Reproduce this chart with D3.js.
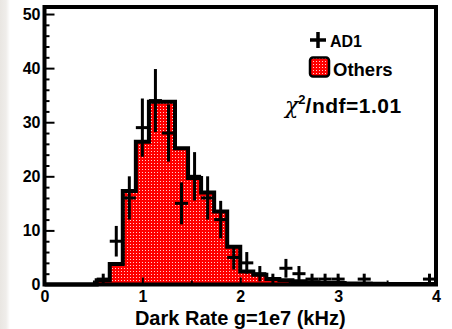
<!DOCTYPE html>
<html>
<head>
<meta charset="utf-8">
<script src="https://cdn.jsdelivr.net/npm/d3@7"></script>
<style>
  body { margin: 0; background: #fff; }
  svg { display: block; }
</style>
</head>
<body>
<div id="chart"></div>
<script>
// 30 bins between 0 and 4 kHz
const xLimits = [0, 4];
const nBins = 30;
const othersCounts = [0, 0, 0, 0, 0.8, 3.8, 17.3, 26.4, 33.8, 33.8,
                      25.2, 19.7, 17.0, 13.5, 7.0, 2.4, 1.8, 1.0, 0.8, 0.6,
                      0.4, 0.3, 0.3, 0.2, 0.2, 0.15, 0.1, 0.1, 0.1, 0.1];
const ad1Counts = [0, 0, 0, 0, 1, 8, 16, 29, 34, 28,
                   15, 20, 16, 12, 5, 4, 2, 1, 3, 2,
                   1, 1, 1, 0, 1, 0, 0, 0, 0, 1];
const yMajorTicks = [0, 10, 20, 30, 40, 50];
const xMajorTicks = [0, 1, 2, 3, 4];
const xMinorTicks = [0.5, 1.5, 2.5, 3.5];
const xTitle = "Dark Rate g=1e7 (kHz)";
const legendLabels = ["AD1", "Others"];
const chi2Value = "1.01";

const W = 452, H = 329;
const frame = { left: 44.5, right: 436, top: 7, bottom: 284.5 };
const font = "'Liberation Sans', Arial, Helvetica, sans-serif";

const svg = d3.select("#chart")
    .append("svg")
    .attr("width", W)
    .attr("height", H);

// slide-like shadow on the left edge
const defs = svg.append("defs");
const grad = defs.append("linearGradient").attr("id", "edge");
grad.append("stop").attr("offset", "0%").attr("stop-color", "#e9e6e2");
grad.append("stop").attr("offset", "60%").attr("stop-color", "#efedea");
grad.append("stop").attr("offset", "100%").attr("stop-color", "#ffffff");
svg.append("rect").attr("width", 10).attr("height", H).style("fill", "url(#edge)");

// ROOT-ish dotted red fill
const pat = defs.append("pattern")
    .attr("id", "dots")
    .attr("x", 0).attr("y", 0)
    .attr("width", 3).attr("height", 3)
    .attr("patternUnits", "userSpaceOnUse");
pat.append("rect").attr("width", 3).attr("height", 3).style("fill", "#ff0000")
    .attr("shape-rendering", "crispEdges");
pat.append("rect").attr("x", 1).attr("y", 1).attr("width", 1).attr("height", 1)
    .attr("shape-rendering", "crispEdges")
    .style("fill", "#ffd0d0");

const x = d3.scaleLinear().domain(xLimits).range([frame.left, frame.right]);
const y = d3.scaleLinear().domain([0, 51.3]).range([frame.bottom, frame.top]);

const binW = (xLimits[1] - xLimits[0]) / nBins;
const steps = othersCounts.map((v, i) => [xLimits[0] + i * binW, v]);
steps.push([xLimits[1], othersCounts[nBins - 1]]);
steps.push([xLimits[1], 0]);

svg.append("path")
    .datum(steps)
    .attr("d", d3.area().curve(d3.curveStepAfter)
        .x(d => x(d[0])).y0(y(0)).y1(d => y(d[1])))
    .style("fill", "url(#dots)");

svg.append("path")
    .datum([[xLimits[0], 0]].concat(steps))
    .attr("d", d3.line().curve(d3.curveStepAfter).x(d => x(d[0])).y(d => y(d[1])))
    .style("fill", "none")
    .style("stroke", "#000")
    .style("stroke-width", 4);

// AD1 points with sqrt(N) errors
const pts = ad1Counts.map((n, i) => ({ lo: xLimits[0] + i * binW, n: n }))
    .filter(d => d.n > 0);

const cross = svg.append("g").style("stroke", "#000").style("stroke-width", 3);
cross.selectAll("line.h")
    .data(pts).enter().append("line")
    .attr("x1", d => x(d.lo)).attr("x2", d => x(d.lo + binW))
    .attr("y1", d => y(d.n)).attr("y2", d => y(d.n));
cross.selectAll("line.v")
    .data(pts).enter().append("line")
    .attr("x1", d => x(d.lo + binW / 2)).attr("x2", d => x(d.lo + binW / 2))
    .attr("y1", d => y(d.n - Math.sqrt(d.n))).attr("y2", d => y(d.n + Math.sqrt(d.n)));

// axes, ticks inside the frame
svg.append("g")
    .attr("transform", `translate(${frame.left},0)`)
    .call(d3.axisLeft(y).tickValues(yMajorTicks).tickSize(-10).tickPadding(4));
svg.append("g")
    .attr("transform", `translate(${frame.left},0)`)
    .call(d3.axisLeft(y).tickValues(d3.range(2, 51, 2).filter(v => v % 10)).tickSize(-5).tickFormat(""));

svg.append("g")
    .attr("transform", `translate(0,${frame.bottom})`)
    .call(d3.axisBottom(x).tickValues(xMajorTicks).tickSize(-7).tickPadding(6).tickFormat(d3.format("d")));
svg.append("g")
    .attr("transform", `translate(0,${frame.bottom})`)
    .call(d3.axisBottom(x).tickValues(xMinorTicks).tickSize(-4).tickFormat(""));

svg.selectAll(".domain").remove();
svg.selectAll(".tick line").style("stroke", "#000").style("stroke-width", 2);
svg.selectAll(".tick text")
    .style("font-family", font)
    .style("font-weight", "bold")
    .style("font-size", "16px")
    .style("fill", "#000");

svg.append("rect")
    .attr("x", frame.left).attr("y", frame.top)
    .attr("width", frame.right - frame.left)
    .attr("height", frame.bottom - frame.top)
    .style("fill", "none")
    .style("stroke", "#000")
    .style("stroke-width", 4);

svg.append("text")
    .attr("x", x(2)).attr("y", 325)
    .attr("text-anchor", "middle")
    .style("font-family", font)
    .style("font-weight", "bold")
    .style("font-size", "20px")
    .text(xTitle);

// legend
const leg = svg.append("g");
leg.append("line").attr("x1", 310).attr("x2", 326).attr("y1", 40).attr("y2", 40)
    .style("stroke", "#000").style("stroke-width", 3.5);
leg.append("line").attr("x1", 318).attr("x2", 318).attr("y1", 32).attr("y2", 48)
    .style("stroke", "#000").style("stroke-width", 3.5);
leg.append("text").attr("x", 330).attr("y", 46.5)
    .style("font-family", font).style("font-weight", "bold").style("font-size", "16px")
    .text(legendLabels[0]);
leg.append("rect").attr("x", 310).attr("y", 57.5).attr("width", 19).attr("height", 19).attr("rx", 3)
    .style("fill", "url(#dots)").style("stroke", "#000").style("stroke-width", 2.5);
leg.append("text").attr("x", 333).attr("y", 75.5)
    .style("font-family", font).style("font-weight", "bold").style("font-size", "18.5px")
    .text(legendLabels[1]);

const chi = svg.append("text").attr("x", 285).attr("y", 113)
    .style("font-family", font).style("font-size", "21px");
chi.append("tspan").style("font-family", "'DejaVu Serif', 'Liberation Serif', serif")
    .style("font-style", "italic").style("font-size", "22px").text("χ");
chi.append("tspan").attr("dy", -9).style("font-weight", "bold").style("font-size", "13px").text("2");
chi.append("tspan").attr("dy", 9).style("font-weight", "bold").style("letter-spacing", "0.5px")
    .text("/ndf=" + chi2Value);
</script>
</body>
</html>
